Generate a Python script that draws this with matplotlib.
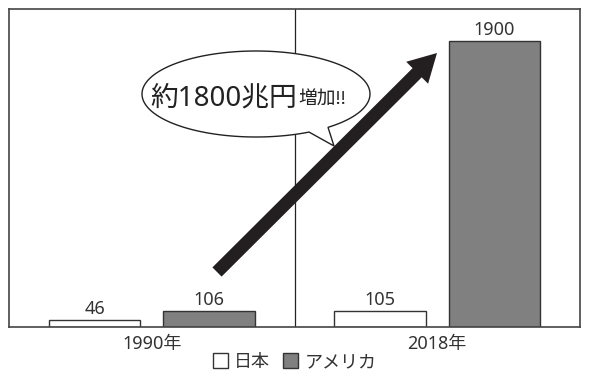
import matplotlib
matplotlib.use("Agg")
import matplotlib.pyplot as plt
import numpy as np
from matplotlib.patches import Patch, Polygon, FancyArrow

plt.rcParams["font.family"] = ["Noto Sans", "Noto Sans CJK JP", "DejaVu Sans"]

# data
years = ["1990年", "2018年"]
japan = [46, 105]
usa = [106, 1900]
series_names = ["日本", "アメリカ"]
bubble_main = "約1800兆円"
bubble_sub = "増加!!"

text_col = "#333333"
edge_col = "#333333"
gray = "#808080"

fig = plt.figure(figsize=(6, 3.77), dpi=100)
ax = fig.add_axes([9 / 600, 50 / 377, 571 / 600, 318 / 377])

x = np.arange(len(years))
w = 0.32
off = 0.2
b1 = ax.bar(x - off, japan, w, color="white", edgecolor=edge_col, linewidth=1)
b2 = ax.bar(x + off, usa, w, color=gray, edgecolor=edge_col, linewidth=1)

for bars, vals in [(b1, japan), (b2, usa)]:
    for rect, v in zip(bars, vals):
        ax.annotate(str(v), (rect.get_x() + rect.get_width() / 2, v),
                    xytext=(0, 4.5), textcoords="offset points",
                    ha="center", va="baseline", fontsize=13, color=text_col)

ax.set_xlim(-0.5, 1.5)
ax.set_ylim(0, 2115)
ax.axvline(0.5, color="#222222", linewidth=0.9)
ax.set_xticks(x)
ax.set_xticklabels(years)
ax.set_yticks([])
ax.tick_params(axis="x", length=0, labelsize=13, pad=6, colors=text_col)
for s in ax.spines.values():
    s.set_color("#444444")
    s.set_linewidth(1.2)

# legend
handles = [Patch(facecolor="white", edgecolor=edge_col, linewidth=1),
           Patch(facecolor=gray, edgecolor=edge_col, linewidth=1)]
leg = fig.legend(handles, series_names, loc="center", ncol=2,
                 bbox_to_anchor=(0.491, 0.04), frameon=False, fontsize=13,
                 handlelength=0.85, handleheight=0.85, handletextpad=0.35,
                 columnspacing=0.7, borderpad=0)
for t in leg.get_texts():
    t.set_color(text_col)

# overlay in pixel coordinates for bubble and arrow
ov = fig.add_axes([0, 0, 1, 1])
ov.set_xlim(0, 600)
ov.set_ylim(377, 0)
ov.axis("off")

arrow = FancyArrow(217, 272, 437 - 217, 53 - 272, width=13, head_width=31,
                   head_length=28, length_includes_head=True,
                   color="#231f20", linewidth=0)
ov.add_patch(arrow)

cx, cy, a, bb = 256, 94, 114, 43
t = np.linspace(1.087, 2 * np.pi + 0.887, 200)
pts = np.column_stack([cx + a * np.cos(t), cy + bb * np.sin(t)])
pts = np.vstack([pts, [334, 146]])
ov.add_patch(Polygon(pts, closed=True, facecolor="white",
                     edgecolor="#222222", linewidth=1, zorder=3))
ov.text(297, 105, bubble_main, ha="right", va="baseline", fontsize=20,
        color="#222222", zorder=4)
ov.text(298, 105, bubble_sub, ha="left", va="baseline", fontsize=13.5,
        color="#222222", zorder=4)

fig.savefig("out.png", dpi=100)
